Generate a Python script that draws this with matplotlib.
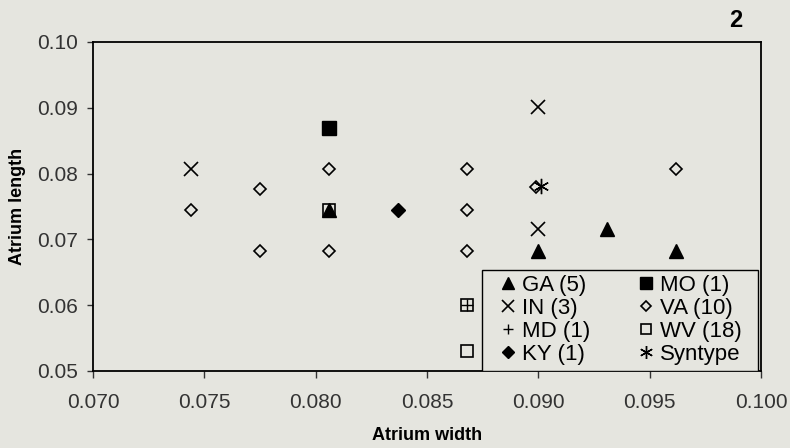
import matplotlib
matplotlib.use("Agg")
import matplotlib.pyplot as plt
from matplotlib.patches import Rectangle

plt.rcParams['font.family'] = ['Liberation Sans', 'DejaVu Sans']

# atrium width / length, one pair of lists per state
ga_x = [0.0806, 0.0900, 0.0931, 0.0962]
ga_y = [0.0745, 0.0683, 0.0716, 0.0683]
in_x = [0.0744, 0.0900, 0.0900]
in_y = [0.0807, 0.0901, 0.0716]
md_x = [0.0868]
md_y = [0.0600]
ky_x = [0.0837]
ky_y = [0.0745]
mo_x = [0.0806]
mo_y = [0.0870]
va_x = [0.0744, 0.0775, 0.0775, 0.0806, 0.0806, 0.0868, 0.0868, 0.0868, 0.0899, 0.0962]
va_y = [0.0745, 0.0776, 0.0683, 0.0807, 0.0683, 0.0807, 0.0745, 0.0683, 0.0779, 0.0807]
wv_x = [0.0868, 0.0868, 0.0806]
wv_y = [0.0600, 0.0530, 0.0745]
syn_x = [0.0901]
syn_y = [0.0781]

labels = ['GA (5)', 'IN (3)', 'MD (1)', 'KY (1)', 'MO (1)', 'VA (10)', 'WV (18)', 'Syntype']

bg = '#e5e5df'
fig = plt.figure(figsize=(7.9, 4.48), dpi=100, facecolor=bg)
ax = fig.add_axes([0.1177, 0.1719, 0.8456, 0.7344], facecolor=bg)

k = dict(ls='none', color='black')
h_wv, = ax.plot(wv_x, wv_y, marker='s', ms=8, mfc='none', mew=1.2, **k)
h_va, = ax.plot(va_x, va_y, marker='D', ms=6.5, mfc='none', mew=1.2, **k)
h_ga, = ax.plot(ga_x, ga_y, marker='^', ms=10, **k)
h_in, = ax.plot(in_x, in_y, marker='x', ms=10, mew=1.2, **k)
h_md, = ax.plot(md_x, md_y, marker='+', ms=8, mew=1.0, **k)
h_ky, = ax.plot(ky_x, ky_y, marker='D', ms=7, **k)
h_mo, = ax.plot(mo_x, mo_y, marker='s', ms=10, **k)
h_syn, = ax.plot(syn_x, syn_y, marker=(6, 2, 0), ms=11, mew=1.0, **k)

ax.set_xlim(0.070, 0.100)
ax.set_ylim(0.05, 0.10)
ax.set_xticks([0.070, 0.075, 0.080, 0.085, 0.090, 0.095, 0.100])
ax.set_yticks([0.05, 0.06, 0.07, 0.08, 0.09, 0.10])
ax.set_xticklabels(['0.070', '0.075', '0.080', '0.085', '0.090', '0.095', '0.100'])
ax.set_yticklabels(['0.05', '0.06', '0.07', '0.08', '0.09', '0.10'])
ax.tick_params(axis='x', direction='out', length=5, width=1, labelsize=15, pad=11, colors='#333333')
ax.tick_params(axis='y', direction='out', length=4, width=1, labelsize=15, pad=7, colors='#333333')
for s in ax.spines.values():
    s.set_linewidth(1.3)
    s.set_color('black')

ax.set_xlabel('Atrium width', fontsize=13, fontweight='bold', labelpad=11)
ax.set_ylabel('Atrium length', fontsize=13, fontweight='bold', labelpad=8)

# legend frame drawn separately so it can hug the lower right corner
ax.add_patch(Rectangle((0.5823, 0.0), 0.4132, 0.307, transform=ax.transAxes,
                       facecolor=bg, edgecolor='black', lw=1.0, zorder=4))
leg = ax.legend([h_ga, h_in, h_md, h_ky, h_mo, h_va, h_wv, h_syn], labels,
                ncol=2, loc='upper left', bbox_to_anchor=(0.6048, 0.293),
                fontsize=16, frameon=False, borderaxespad=0, borderpad=0,
                markerscale=0.85, handlelength=1.0, handletextpad=0.14,
                columnspacing=2.0, labelspacing=0.1)
leg.set_zorder(5)

fig.text(0.931, 0.955, '2', fontsize=17, fontweight='bold', ha='center', va='center')

plt.savefig('out.png', dpi=100, facecolor=bg)
